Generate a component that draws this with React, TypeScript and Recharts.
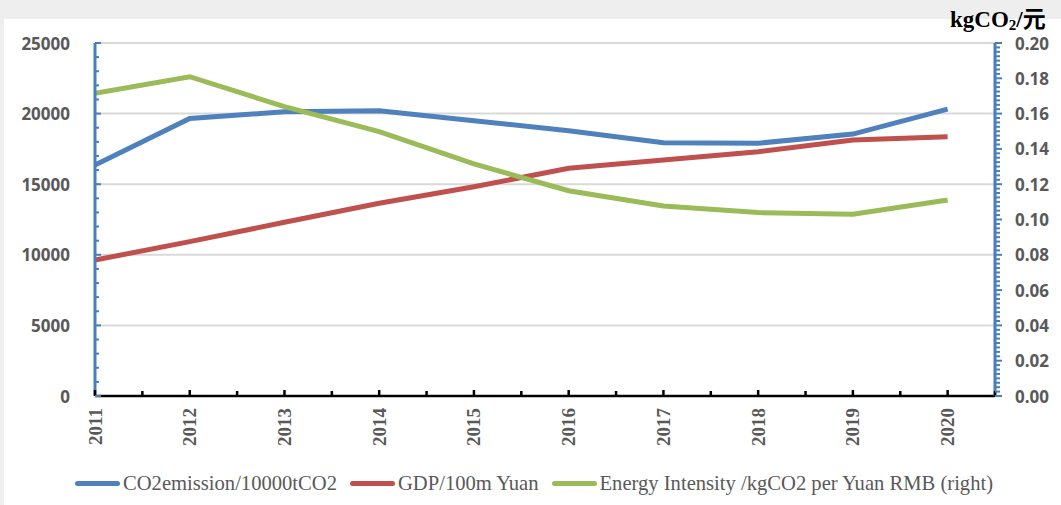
import React from 'react';
import { LineChart, Line, XAxis, YAxis, ReferenceLine } from 'recharts';

const years = [2011, 2012, 2013, 2014, 2015, 2016, 2017, 2018, 2019, 2020];
const co2Emission = [16360, 19660, 20130, 20200, 19500, 18790, 17940, 17900, 18550, 20320];
const gdp = [9630, 10930, 12300, 13650, 14820, 16130, 16710, 17300, 18130, 18360];
const energyIntensity = [0.1715, 0.1809, 0.1639, 0.1498, 0.1315, 0.1163, 0.1077, 0.1039, 0.103, 0.1111];

const leftMajorTicks = [0, 5000, 10000, 15000, 20000, 25000];
const rightMajorTicks = [0, 0.02, 0.04, 0.06, 0.08, 0.1, 0.12, 0.14, 0.16, 0.18, 0.2];

const seriesNames = ['CO2emission/10000tCO2', 'GDP/100m Yuan', 'Energy Intensity /kgCO2 per Yuan RMB (right)'];
const seriesColors = ['#4f81bd', '#c0504d', '#9bbb59'];

const data = years.map((year, i) => ({
    year,
    co2: co2Emission[i],
    gdp: gdp[i],
    intensity: energyIntensity[i]
}));

// minor ticks: half steps on x, 1000 on left, 0.0025 on right
const xTicks: number[] = [];
for (let i = 0; i < years.length; i++) {
    xTicks.push(years[i], years[i] + 0.5);
}
const leftTicks: number[] = [];
for (let v = 0; v <= 25000; v += 1000) leftTicks.push(v);
const rightTicks: number[] = [];
for (let k = 0; k <= 80; k++) rightTicks.push(Math.round(k * 25) / 10000);

const AXIS_BLUE = '#4a7ebb';
const LABEL_GRAY = '#595959';
const labelFont = "'Open Sans', 'Liberation Sans', sans-serif";
const serifFont = "'Liberation Serif', 'Times New Roman', serif";

function XTick(props: any) {
    const { x, y, payload } = props;
    const major = Number.isInteger(payload.value);
    return (
        <g>
            <line x1={x} x2={x} y1={y} y2={y - (major ? 6 : 5)} stroke="#000" strokeWidth={2.5} />
            {major && (
                <text
                    transform={`translate(${x},${y + 12}) rotate(-90)`}
                    textAnchor="end"
                    dominantBaseline="central"
                    fontFamily={serifFont}
                    fontWeight="bold"
                    fontSize={19}
                    fill={LABEL_GRAY}
                >
                    {payload.value}
                </text>
            )}
        </g>
    );
}

function LeftTick(props: any) {
    const { x, y, payload } = props;
    const major = payload.value % 5000 === 0;
    return (
        <g>
            <line x1={x} x2={x + (major ? 6 : 4)} y1={y} y2={y} stroke={AXIS_BLUE} strokeWidth={2} />
            {major && (
                <text x={70} y={y} textAnchor="end" dominantBaseline="central" fontFamily={labelFont} fontWeight="bold" fontSize={17} fill={LABEL_GRAY}>
                    {payload.value}
                </text>
            )}
        </g>
    );
}

function RightTick(props: any) {
    const { x, y, payload } = props;
    const major = rightMajorTicks.some((t) => Math.abs(t - payload.value) < 1e-9);
    return (
        <g>
            <line x1={x} x2={x + (major ? 7 : 5)} y1={y} y2={y} stroke={AXIS_BLUE} strokeWidth={2} />
            {major && (
                <text x={x + 20} y={y} textAnchor="start" dominantBaseline="central" fontFamily={labelFont} fontWeight="bold" fontSize={17} fill={LABEL_GRAY}>
                    {payload.value.toFixed(2)}
                </text>
            )}
        </g>
    );
}

export default function App() {
    return (
        <div style={{ position: 'fixed', top: 0, left: 0, width: 1061, height: 505, background: '#eeeeee', overflow: 'hidden' }}>
            <div style={{ position: 'absolute', left: 4, top: 19, right: 0, bottom: 0, background: '#ffffff' }} />
            <div style={{ position: 'absolute', left: 0, top: 0 }}>
                <LineChart width={1061} height={505} data={data} margin={{ top: 43, right: 0, bottom: 0, left: 0 }}>
                    <XAxis
                        dataKey="year"
                        type="number"
                        domain={[2011, 2020.5]}
                        ticks={xTicks}
                        interval={0}
                        height={109}
                        tickSize={0}
                        tickMargin={0}
                        tickLine={false}
                        tick={<XTick />}
                        axisLine={{ stroke: '#000', strokeWidth: 2.5 }}
                        allowDataOverflow
                    />
                    <YAxis
                        yAxisId="left"
                        orientation="left"
                        width={95}
                        domain={[0, 25000]}
                        ticks={leftTicks}
                        interval={0}
                        tickSize={0}
                        tickMargin={0}
                        tickLine={false}
                        tick={<LeftTick />}
                        axisLine={{ stroke: AXIS_BLUE, strokeWidth: 3 }}
                    />
                    <YAxis
                        yAxisId="right"
                        orientation="right"
                        width={66}
                        domain={[0, 0.2]}
                        ticks={rightTicks}
                        interval={0}
                        tickSize={0}
                        tickMargin={0}
                        tickLine={false}
                        tick={<RightTick />}
                        axisLine={{ stroke: AXIS_BLUE, strokeWidth: 3 }}
                    />
                    {leftMajorTicks.slice(1).map((v) => (
                        <ReferenceLine key={v} yAxisId="left" y={v} stroke="#d9d9d9" strokeWidth={2} />
                    ))}
                    <Line yAxisId="left" dataKey="co2" stroke={seriesColors[0]} strokeWidth={5} dot={false} isAnimationActive={false} />
                    <Line yAxisId="left" dataKey="gdp" stroke={seriesColors[1]} strokeWidth={5} dot={false} isAnimationActive={false} />
                    <Line yAxisId="right" dataKey="intensity" stroke={seriesColors[2]} strokeWidth={5} dot={false} isAnimationActive={false} />
                </LineChart>
            </div>
            <div
                style={{
                    position: 'absolute',
                    left: 950,
                    top: 8,
                    lineHeight: '23px',
                    fontFamily: "'Liberation Serif', 'Noto Sans CJK SC', serif",
                    fontWeight: 'bold',
                    fontSize: 23,
                    color: '#000',
                    whiteSpace: 'nowrap'
                }}
            >
                kgCO<span style={{ fontSize: 15, position: 'relative', top: 3 }}>2</span>/元
            </div>
            <div
                style={{
                    position: 'absolute',
                    left: 75,
                    top: 470,
                    lineHeight: '26px',
                    display: 'flex',
                    alignItems: 'center',
                    fontFamily: serifFont,
                    fontSize: 20.6,
                    color: LABEL_GRAY,
                    whiteSpace: 'nowrap'
                }}
            >
                {seriesNames.map((name, i) => (
                    <div key={name} style={{ display: 'flex', alignItems: 'center', marginRight: 13 }}>
                        <span style={{ display: 'inline-block', width: 45, height: 5, borderRadius: 3, background: seriesColors[i], marginRight: 3 }} />
                        <span>{name}</span>
                    </div>
                ))}
            </div>
        </div>
    );
}
